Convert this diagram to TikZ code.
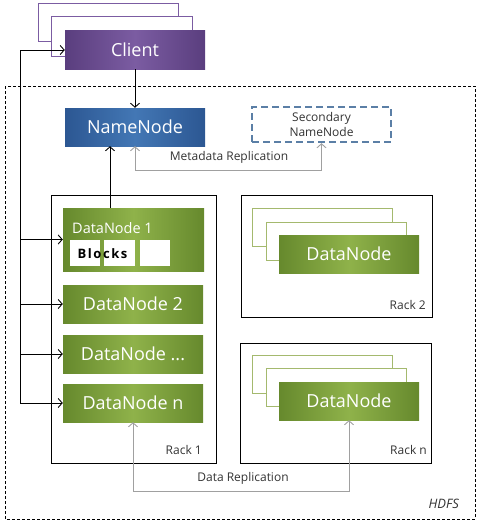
\documentclass[tikz,border=0pt]{standalone}
\usepackage{fontspec}
\setmainfont{Open Sans}
\usetikzlibrary{arrows.meta}
\definecolor{purpD}{HTML}{5A3E7E}
\definecolor{purpL}{HTML}{7B5CA2}
\definecolor{blueD}{HTML}{2C5792}
\definecolor{blueL}{HTML}{4377B5}
\definecolor{grnD}{HTML}{66892D}
\definecolor{grnL}{HTML}{8FB24A}
\definecolor{grnF}{HTML}{A4B96E}
\definecolor{secB}{HTML}{5B7FA6}
\definecolor{repG}{HTML}{A0A0A0}
\definecolor{txtG}{HTML}{333333}
\tikzset{
  box/.style={draw=none, minimum width=140pt, minimum height=38pt, inner sep=0pt, text=white, font=\fontsize{18}{20}\selectfont},
  purpbox/.style={box, left color=purpD, right color=purpD, middle color=purpL},
  bluebox/.style={box, left color=blueD, right color=blueD, middle color=blueL},
  grnbox/.style={box, left color=grnD, right color=grnD, middle color=grnL},
  pframe/.style={draw=purpL, line width=1pt, fill=white, minimum width=140pt, minimum height=38pt, inner sep=0pt},
  gframe/.style={draw=grnF, line width=1pt, fill=white, minimum width=140pt, minimum height=38pt, inner sep=0pt},
  rack/.style={draw=black, line width=1pt, inner sep=0pt},
  blk/.style={fill=white, draw=none, minimum width=30pt, minimum height=26pt, inner sep=0pt},
  small/.style={font=\fontsize{12}{14}\selectfont, text=txtG, inner sep=0pt},
  arr/.style={draw=black, line width=0.9pt, -{Straight Barb[length=4pt,width=9pt]}},
  garr/.style={draw=repG, line width=0.9pt, {Straight Barb[length=4pt,width=9pt]}-{Straight Barb[length=4pt,width=9pt]}},
}
\begin{document}
\begin{tikzpicture}[x=1pt,y=-1pt]
\useasboundingbox (0,0) rectangle (483,527);
% HDFS frame
\draw[black, line width=0.8pt, dash pattern=on 3pt off 2pt] (5,86) rectangle (475,519);
\node[anchor=east, inner sep=0pt, font=\itshape\fontsize{13}{15}\selectfont, text=txtG] (hdfs) at (459,504) {HDFS};

% Client stack
\node[pframe] (cf1) at (108,23) {};
\node[pframe, minimum width=141pt, minimum height=40pt] (cf2) at (121.5,37) {};
\node[purpbox] (client) at (135,50) {Client};

% NameNode
\node[bluebox] (nn) at (135,127) {NameNode};
\node[draw=secB, line width=2.4pt, dash pattern=on 7pt off 4pt, minimum width=139pt, minimum height=35pt, inner sep=0pt, align=center, text=txtG, font=\fontsize{12}{15}\selectfont] (snn) at (321.5,124.5) {Secondary\\NameNode};

% Rack 1
\node[rack, minimum width=165pt, minimum height=268pt] (rack1) at (133.5,329) {};
\node[grnbox, minimum width=141pt, minimum height=63pt] (dn1) at (133.5,239.5) {};
\node[anchor=base west, inner sep=0pt, text=white, font=\fontsize{14.5}{16}\selectfont] (dn1t) at (72,233) {DataNode 1};
\node[blk] (b1) at (85,253) {};
\node[blk, minimum width=31pt] (b2) at (119.5,253) {};
\node[blk] (b3) at (155,253) {};
\node[inner sep=0pt, font=\bfseries\fontsize{13}{14}\selectfont\addfontfeatures{LetterSpace=12}] (blocks) at (102.5,254) {Blocks};
\node[grnbox] (dn2) at (133,304) {DataNode 2};
\node[grnbox] (dn3) at (133,354) {DataNode ...};
\node[grnbox] (dnn) at (133,403) {DataNode n};
\node[small, anchor=east] (r1l) at (202,450) {Rack 1};

% Rack 2
\node[rack, minimum width=191pt, minimum height=122pt] (rack2) at (336.5,256) {};
\node[gframe] (r2f1) at (322,227) {};
\node[gframe] (r2f2) at (336,241) {};
\node[grnbox] (r2dn) at (349,254) {DataNode};
\node[small, anchor=east] (r2l) at (426,305) {Rack 2};

% Rack n
\node[rack, minimum width=191pt, minimum height=120pt] (rackn) at (335.5,403) {};
\node[gframe] (rnf1) at (322,374) {};
\node[gframe] (rnf2) at (336,387) {};
\node[grnbox] (rndn) at (349,401) {DataNode};
\node[small, anchor=east] (rnl) at (427,450) {Rack n};

% Connectors
\coordinate (busTop) at (20,50);
\coordinate (busBot) at (20,403);
\draw[black, line width=0.9pt] (busBot) -- (busTop);
\draw[arr] (busTop) -- (client.west);
\draw[arr] (busTop |- dn1.west) -- (dn1.west);
\draw[arr] (busTop |- dn2.west) -- (dn2.west);
\draw[arr] (busTop |- dn3.west) -- (dn3.west);
\draw[arr] (busBot) -- (dnn.west);
\draw[arr] (client.south) -- (nn.north);
\draw[arr] ([xshift=-25pt]nn.south |- dn1.north) -- ([xshift=-25pt]nn.south);

\draw[garr] (nn.south) -- ++(0,24) -| (snn.south);
\node[small] (mdr) at (229,157) {Metadata Replication};

\draw[garr] (dnn.south) -- ++(0,69) -| (rndn.south);
\node[small] (dr) at (243,478) {Data Replication};
\end{tikzpicture}
\end{document}
